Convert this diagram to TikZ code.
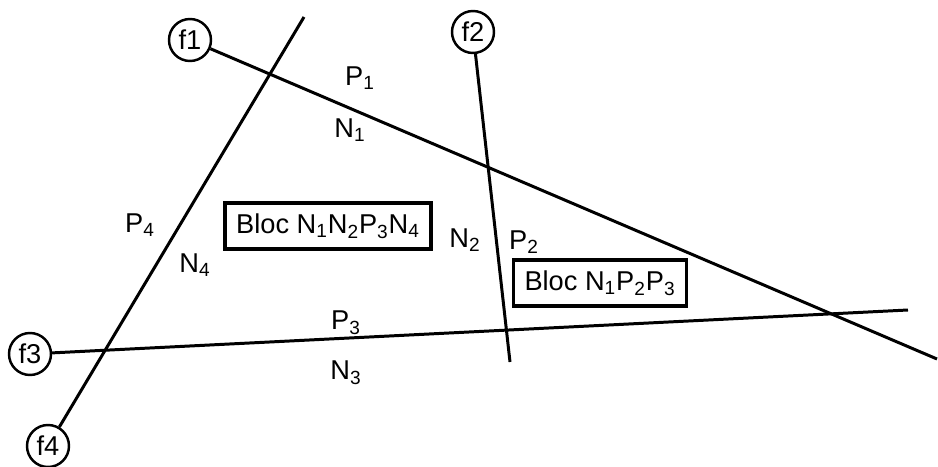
\documentclass[tikz,border=0pt]{standalone}
\usepackage{fontspec}
\setmainfont{Liberation Sans}
\tikzset{
  face/.style={draw,circle,line width=1.4pt,minimum size=0.84cm,inner sep=0pt},
  bloc/.style={draw,line width=2pt,minimum height=0.92cm,inner xsep=0.22cm},
  lab/.style={inner sep=1pt}
}
\newcommand{\sub}[1]{\textsubscript{#1}}
\begin{document}
\begin{tikzpicture}[line width=1.7pt,font=\fontsize{15.5}{18}\selectfont]
    \useasboundingbox (0,0) rectangle (18.76,9.32);
    % faces
    \node[face] (f1) at (3.8,8.52) {f1};
    \node[face] (f2) at (9.46,8.68) {f2};
    \node[face] (f3) at (0.6,2.24) {f3};
    \node[face] (f4) at (0.96,0.40) {f4};
    \coordinate (e1) at (18.74,2.14);
    \coordinate (e2) at (10.2,2.08);
    \coordinate (e3) at (18.16,3.12);
    \coordinate (e4) at (6.08,8.98);
    \draw (f1) -- (e1);
    \draw (f2) -- (e2);
    \draw (f3) -- (e3);
    \draw (f4) -- (e4);
    % half-spaces
    \node[lab] (p1) at (7.2,7.76) {P\sub{1}};
    \node[lab] (n1) at (7.0,6.72) {N\sub{1}};
    \node[lab] (p4) at (2.8,4.82) {P\sub{4}};
    \node[lab] (n4) at (3.9,4.02) {N\sub{4}};
    \node[lab] (n2) at (9.3,4.52) {N\sub{2}};
    \node[lab] (p2) at (10.48,4.48) {P\sub{2}};
    \node[lab] (p3) at (6.92,2.86) {P\sub{3}};
    \node[lab] (n3) at (6.92,1.86) {N\sub{3}};
    % blocs
    \node[bloc] (b1) at (6.56,4.8) {Bloc N\sub{1}N\sub{2}P\sub{3}N\sub{4}};
    \node[bloc] (b2) at (12.0,3.66) {Bloc N\sub{1}P\sub{2}P\sub{3}};
\end{tikzpicture}
\end{document}
